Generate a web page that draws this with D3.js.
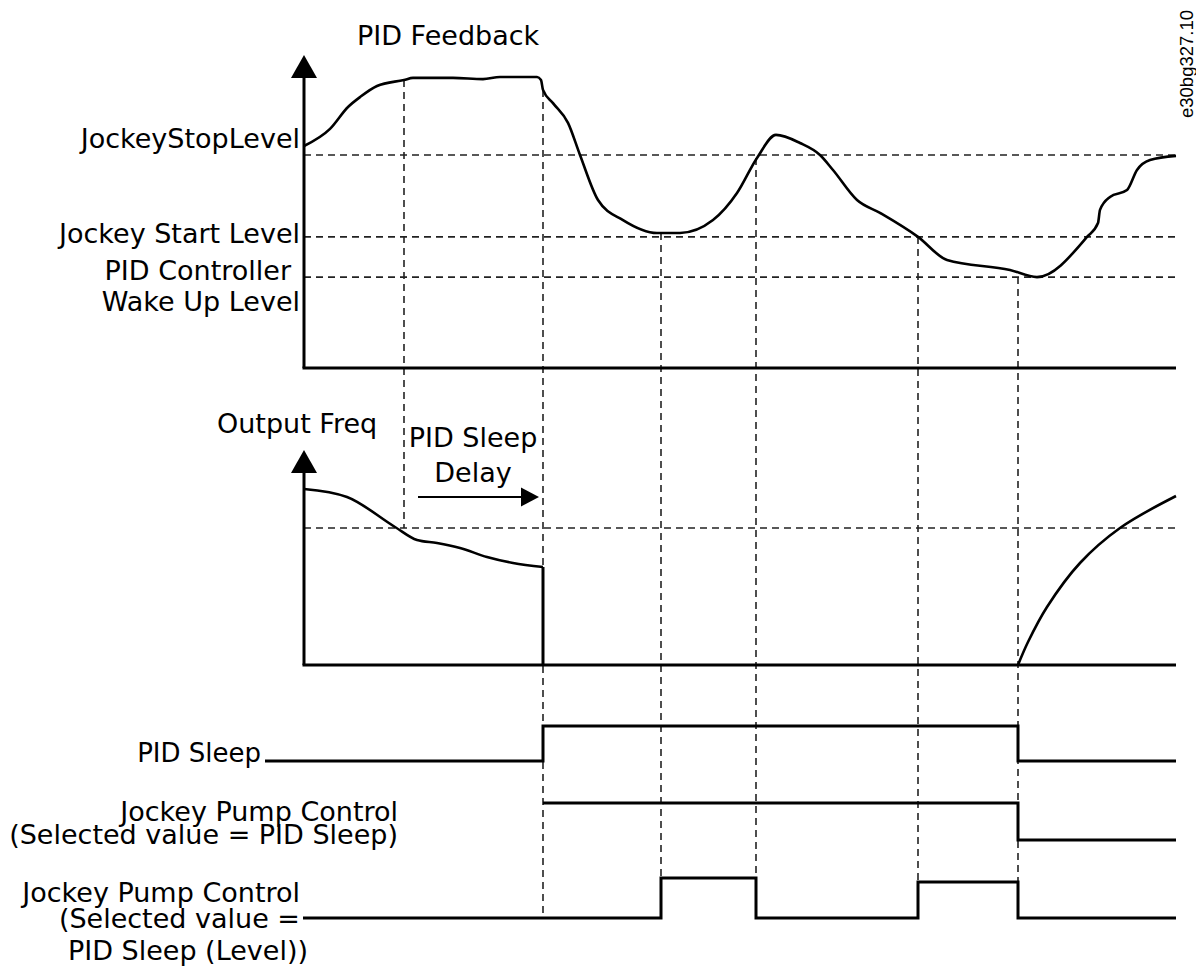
<!DOCTYPE html>
<html><head><meta charset="utf-8">
<script src="https://cdn.jsdelivr.net/npm/d3@7"></script>
<style>html,body{margin:0;padding:0;background:#fff}svg{display:block}</style>
</head><body>
<svg id="c" width="1196" height="969"></svg>
<script>
// ---------- data ----------
// time axis (arbitrary units)
const fbTimes  = [0, 6.5, 11, 14, 18.25, 25, 27.25, 37.25, 44.75, 49, 58.25, 59.25, 59.75, 62.25, 66, 69, 73.5, 79.75, 88.25, 94, 102.25, 108.25, 113.25, 118, 124, 129, 132.25, 138.25, 144, 153.5, 160.75, 176.5, 183.25, 195.75, 198.5, 199, 201.5, 205.75, 208.25, 211.5, 218];
const fbValues = [74, 79.7, 87, 90.3, 94, 96, 96.7, 96.7, 96.3, 97, 97, 96, 92.7, 88.3, 81.7, 71, 56, 49.3, 45, 45, 49.3, 58.3, 70, 77.7, 75, 71, 66, 56, 51.7, 43.7, 36, 32.7, 30.3, 43.7, 48.3, 52.7, 57, 59.3, 66, 69.3, 70.7];
const levelLabels = ["JockeyStopLevel", "Jockey Start Level", "PID Controller", "Wake Up Level"];
const levelValues = [71, 43.7, 30.3];

const freqTimes  = [0, 10.75, 22.75, 28.25, 33.25, 39, 45.75, 52.25, 59.75];
const freqValues = [88, 84, 69, 62.5, 61, 58.5, 54, 51, 49];
const freqRecTimes  = [178.5, 181, 185.75, 194, 204, 218];
const freqRecValues = [0, 11.5, 29, 51, 68.5, 84.5];
const freqThreshold = 68.5;

const eventTimes = [25, 59.75, 89.25, 113, 153.5, 178.5];
const eventTopFb = [96, 92.7, 45, 70, 43.7, 30.3];

const sleepTimes  = [-9.75, 59.75, 178.5, 218];
const sleepValues = [0, 1, 0, 0];
const jpsTimes    = [59.75, 178.5, 218];
const jpsValues   = [1, 0, 0];
const lvlTimes    = [-0.25, 89.25, 113, 153.5, 178.5, 218];
const lvlValues   = [0, 1, 0, 0.9, 0, 0];

// ---------- scales ----------
const svg = d3.select("#c");
const FONT = "DejaVu Sans";
const FS = 27;
const x = d3.scaleLinear().domain([0, 218]).range([304, 1176]);
const yFb = d3.scaleLinear().domain([0, 104]).range([368, 56]);
const yOut = d3.scaleLinear().domain([0, 100]).range([665, 465]);
const ySleep = d3.scaleLinear().domain([0, 1]).range([761, 726]);
const yJps = d3.scaleLinear().domain([0, 1]).range([840, 803]);
const yLvl = d3.scaleLinear().domain([0, 1]).range([918, 878]);

const dashStyle = s => s.attr("stroke", "#222").attr("stroke-width", 1.6).attr("stroke-dasharray", "7,5").attr("fill", "none");
const solid = s => s.attr("stroke", "#000").attr("stroke-width", 3).attr("fill", "none");

// ---------- dashed guides ----------
const g0 = svg.append("g");
levelValues.forEach(v => {
  g0.append("line").attr("x1", x(0)).attr("x2", x(218)).attr("y1", yFb(v)).attr("y2", yFb(v)).call(dashStyle);
});
g0.append("line").attr("x1", x(0)).attr("x2", x(218)).attr("y1", yOut(freqThreshold)).attr("y2", yOut(freqThreshold)).call(dashStyle);
const eventBottoms = [yOut(freqThreshold), yLvl(0), yLvl(1), yLvl(1), yLvl(0.9), yLvl(0)];
eventTimes.forEach((t, i) => {
  g0.append("line").attr("x1", x(t)).attr("x2", x(t)).attr("y1", yFb(eventTopFb[i])).attr("y2", eventBottoms[i]).call(dashStyle);
});

// ---------- axes ----------
function arrowAxis(yTopPx, yBase) {
  svg.append("line").attr("x1", x(0)).attr("x2", x(0)).attr("y1", yTopPx + 20).attr("y2", yBase).call(solid);
  svg.append("line").attr("x1", x(0) - 1.5).attr("x2", x(218)).attr("y1", yBase).attr("y2", yBase).call(solid);
  svg.append("path").attr("d", `M${x(0)},${yTopPx} L${x(0) + 13},${yTopPx + 23} L${x(0) - 13},${yTopPx + 23} Z`).attr("fill", "#000");
}
arrowAxis(55, yFb(0));
arrowAxis(450, yOut(0));

// ---------- feedback curve ----------
const fbData = fbTimes.map((t, i) => [t, fbValues[i]]);
svg.append("path").datum(fbData)
  .attr("d", d3.line().x(d => x(d[0])).y(d => yFb(d[1])).curve(d3.curveMonotoneX))
  .call(solid).attr("stroke-width", 2.6).attr("stroke-linejoin", "round");

// ---------- output freq ----------
const fData = freqTimes.map((t, i) => [t, freqValues[i]]);
svg.append("path").datum(fData)
  .attr("d", d3.line().x(d => x(d[0])).y(d => yOut(d[1])).curve(d3.curveMonotoneX))
  .call(solid).attr("stroke-width", 2.6);
const lastT = freqTimes[freqTimes.length - 1], lastV = freqValues[freqValues.length - 1];
svg.append("line").attr("x1", x(lastT)).attr("x2", x(lastT)).attr("y1", yOut(lastV)).attr("y2", yOut(0)).call(solid);
const rData = freqRecTimes.map((t, i) => [t, freqRecValues[i]]);
svg.append("path").datum(rData)
  .attr("d", d3.line().x(d => x(d[0])).y(d => yOut(d[1])).curve(d3.curveCatmullRom))
  .call(solid).attr("stroke-width", 2.6);

// delay arrow
const ay = yOut(84);
svg.append("line").attr("x1", x(28.5)).attr("x2", x(55)).attr("y1", ay).attr("y2", ay).attr("stroke", "#000").attr("stroke-width", 2);
svg.append("path").attr("d", `M${x(58.75)},${ay} L${x(58.75) - 18},${ay - 9.5} L${x(58.75) - 18},${ay + 9.5} Z`).attr("fill", "#000");

// ---------- digital signals ----------
function step(times, vals, ys) {
  const d = times.map((t, i) => [t, vals[i]]);
  svg.append("path").datum(d)
    .attr("d", d3.line().x(p => x(p[0])).y(p => ys(p[1])).curve(d3.curveStepAfter))
    .call(solid).attr("stroke-linejoin", "miter");
}
step(sleepTimes, sleepValues, ySleep);
step(jpsTimes, jpsValues, yJps);
step(lvlTimes, lvlValues, yLvl);

// ---------- text ----------
function txt(s, px, py, anchor, size) {
  return svg.append("text").attr("x", px).attr("y", py).attr("text-anchor", anchor || "start")
    .attr("font-family", FONT).attr("font-size", size || FS).attr("fill", "#000").text(s);
}
txt("PID Feedback", 357, 45);
txt(levelLabels[0], 300, 148, "end");
txt(levelLabels[1], 300, 243, "end");
txt(levelLabels[2], 291, 280, "end");
txt(levelLabels[3], 300, 311, "end");
txt("Output Freq", 217, 433);
txt("PID Sleep", 473, 447, "middle");
txt("Delay", 473, 482, "middle");
txt("PID Sleep", 261, 762, "end", 26);
txt("Jockey Pump Control", 398, 821, "end");
txt("(Selected value = PID Sleep)", 398, 844, "end");
txt("Jockey Pump Control", 300, 902, "end");
txt("(Selected value =", 300, 928, "end");
txt("PID Sleep (Level))", 308, 960, "end");

svg.append("text").attr("transform", "translate(1193,118) rotate(-90)")
  .attr("font-family", "Liberation Sans").attr("font-size", 18.5).attr("fill", "#000").text("e30bg327.10");
</script>
</body></html>
